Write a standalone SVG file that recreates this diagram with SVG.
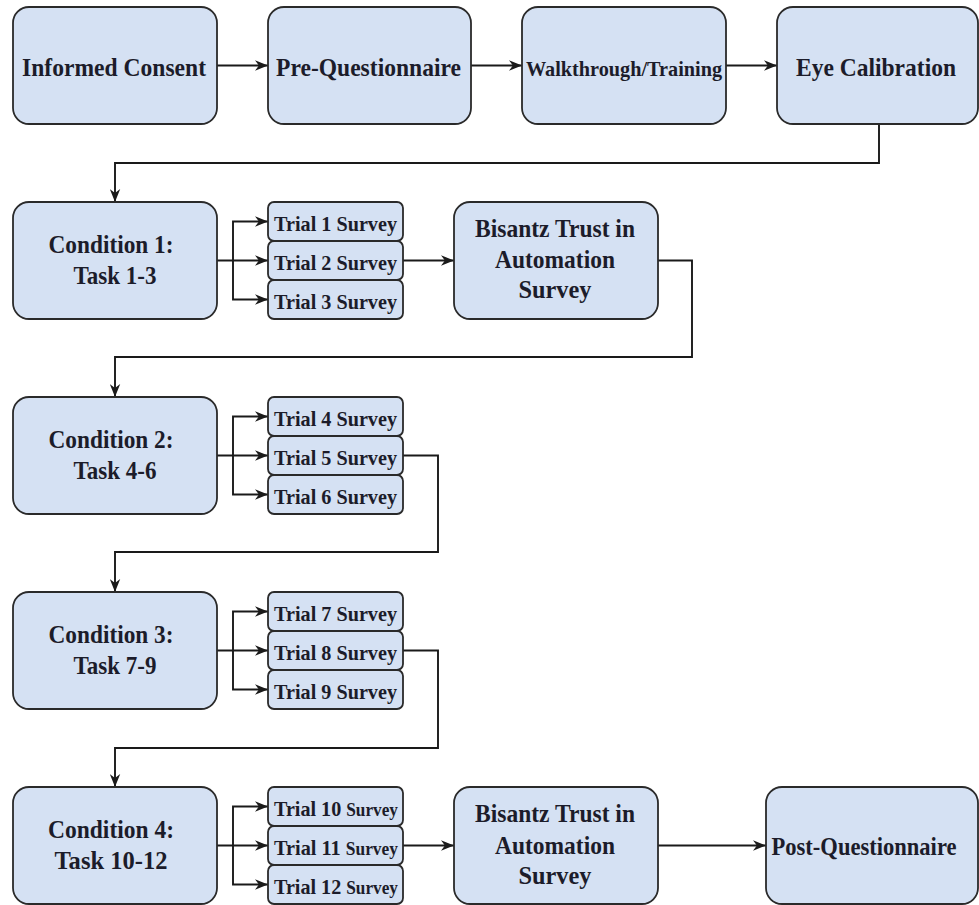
<svg xmlns="http://www.w3.org/2000/svg" width="979" height="905" viewBox="0 0 979 905">
<defs>
<style>
.box{fill:#D5E1F3;stroke:#2a2a2a;stroke-width:1.8}
.t{font-family:"Liberation Serif","Times New Roman",serif;font-weight:bold;fill:#1c1c2a;text-anchor:middle}
.big{font-size:25px}
.mid{font-size:22px}
.sm{font-size:21px}
.c{fill:none;stroke:#1a1a1a;stroke-width:1.9}
</style>
<marker id="ah" viewBox="0 0 10 8" markerUnits="userSpaceOnUse" markerWidth="13" markerHeight="11" refX="10" refY="4" orient="auto">
<path d="M0,0 L10,4 L0,8 L3,4 z" fill="#1a1a1a"/>
</marker>
</defs>
<rect width="979" height="905" fill="#ffffff"/>

<g id="connectors">
<path class="c" d="M217,65.5 H268" marker-end="url(#ah)"/>
<path class="c" d="M471,65.5 H522" marker-end="url(#ah)"/>
<path class="c" d="M726,65.5 H777" marker-end="url(#ah)"/>
<path class="c" d="M879,124 V163 H115 V202" marker-end="url(#ah)"/>
<path class="c" d="M217,260.5 H268" marker-end="url(#ah)"/>
<path class="c" d="M233,260.5 V221.5 H268" marker-end="url(#ah)"/>
<path class="c" d="M233,260.5 V299.5 H268" marker-end="url(#ah)"/>
<path class="c" d="M403,260.5 H454" marker-end="url(#ah)"/>
<path class="c" d="M658,260.5 H692 V357 H115 V397" marker-end="url(#ah)"/>
<path class="c" d="M217,455.5 H268" marker-end="url(#ah)"/>
<path class="c" d="M233,455.5 V416.5 H268" marker-end="url(#ah)"/>
<path class="c" d="M233,455.5 V494.5 H268" marker-end="url(#ah)"/>
<path class="c" d="M403,455.5 H438 V552 H115 V592" marker-end="url(#ah)"/>
<path class="c" d="M217,650.5 H268" marker-end="url(#ah)"/>
<path class="c" d="M233,650.5 V611.5 H268" marker-end="url(#ah)"/>
<path class="c" d="M233,650.5 V689.5 H268" marker-end="url(#ah)"/>
<path class="c" d="M403,650.5 H438 V748 H115 V787" marker-end="url(#ah)"/>
<path class="c" d="M217,845.5 H268" marker-end="url(#ah)"/>
<path class="c" d="M233,845.5 V806.5 H268" marker-end="url(#ah)"/>
<path class="c" d="M233,845.5 V884.5 H268" marker-end="url(#ah)"/>
<path class="c" d="M403,845.5 H454" marker-end="url(#ah)"/>
<path class="c" d="M658,845.5 H766" marker-end="url(#ah)"/>
</g>

<g id="informed-consent">
<rect class="box" x="13" y="7" width="204" height="117" rx="16"/>
<text class="t big" x="114" y="76" textLength="184" lengthAdjust="spacingAndGlyphs">Informed Consent</text>
</g>
<g id="pre-questionnaire">
<rect class="box" x="268" y="7" width="203" height="117" rx="16"/>
<text class="t big" x="368.5" y="76" textLength="185" lengthAdjust="spacingAndGlyphs">Pre-Questionnaire</text>
</g>
<g id="walkthrough">
<rect class="box" x="522" y="7" width="204" height="117" rx="16"/>
<text class="t mid" x="624" y="76" textLength="196" lengthAdjust="spacingAndGlyphs">Walkthrough/Training</text>
</g>
<g id="eye-calibration">
<rect class="box" x="777" y="7" width="201" height="117" rx="16"/>
<text class="t big" x="876" y="76" textLength="160" lengthAdjust="spacingAndGlyphs">Eye Calibration</text>
</g>

<g id="condition-1">
<rect class="box" x="13" y="202" width="204" height="117" rx="16"/>
<text class="t big" x="111" y="253" textLength="125" lengthAdjust="spacingAndGlyphs">Condition 1:</text>
<text class="t big" x="115" y="284" textLength="83" lengthAdjust="spacingAndGlyphs">Task 1-3</text>
</g>
<g id="trial-1"><rect class="box" x="268" y="202" width="135" height="39" rx="6"/><text class="t sm" x="335.5" y="231" textLength="123" lengthAdjust="spacingAndGlyphs">Trial 1 Survey</text></g>
<g id="trial-2"><rect class="box" x="268" y="241" width="135" height="39" rx="6"/><text class="t sm" x="335.5" y="270" textLength="123" lengthAdjust="spacingAndGlyphs">Trial 2 Survey</text></g>
<g id="trial-3"><rect class="box" x="268" y="280" width="135" height="39" rx="6"/><text class="t sm" x="335.5" y="309" textLength="123" lengthAdjust="spacingAndGlyphs">Trial 3 Survey</text></g>
<g id="bisantz-1">
<rect class="box" x="454" y="202" width="204" height="117" rx="16"/>
<text class="t big" x="555" y="237" textLength="160" lengthAdjust="spacingAndGlyphs">Bisantz Trust in</text>
<text class="t big" x="555" y="268" textLength="120" lengthAdjust="spacingAndGlyphs">Automation</text>
<text class="t big" x="555" y="298" textLength="73" lengthAdjust="spacingAndGlyphs">Survey</text>
</g>

<g id="condition-2">
<rect class="box" x="13" y="397" width="204" height="117" rx="16"/>
<text class="t big" x="111" y="448" textLength="125" lengthAdjust="spacingAndGlyphs">Condition 2:</text>
<text class="t big" x="115" y="479" textLength="83" lengthAdjust="spacingAndGlyphs">Task 4-6</text>
</g>
<g id="trial-4"><rect class="box" x="268" y="397" width="135" height="39" rx="6"/><text class="t sm" x="335.5" y="426" textLength="123" lengthAdjust="spacingAndGlyphs">Trial 4 Survey</text></g>
<g id="trial-5"><rect class="box" x="268" y="436" width="135" height="39" rx="6"/><text class="t sm" x="335.5" y="465" textLength="123" lengthAdjust="spacingAndGlyphs">Trial 5 Survey</text></g>
<g id="trial-6"><rect class="box" x="268" y="475" width="135" height="39" rx="6"/><text class="t sm" x="335.5" y="504" textLength="123" lengthAdjust="spacingAndGlyphs">Trial 6 Survey</text></g>

<g id="condition-3">
<rect class="box" x="13" y="592" width="204" height="117" rx="16"/>
<text class="t big" x="111" y="643" textLength="125" lengthAdjust="spacingAndGlyphs">Condition 3:</text>
<text class="t big" x="115" y="674" textLength="83" lengthAdjust="spacingAndGlyphs">Task 7-9</text>
</g>
<g id="trial-7"><rect class="box" x="268" y="592" width="135" height="39" rx="6"/><text class="t sm" x="335.5" y="621" textLength="123" lengthAdjust="spacingAndGlyphs">Trial 7 Survey</text></g>
<g id="trial-8"><rect class="box" x="268" y="631" width="135" height="39" rx="6"/><text class="t sm" x="335.5" y="660" textLength="123" lengthAdjust="spacingAndGlyphs">Trial 8 Survey</text></g>
<g id="trial-9"><rect class="box" x="268" y="670" width="135" height="39" rx="6"/><text class="t sm" x="335.5" y="699" textLength="123" lengthAdjust="spacingAndGlyphs">Trial 9 Survey</text></g>

<g id="condition-4">
<rect class="box" x="13" y="787" width="204" height="117" rx="16"/>
<text class="t big" x="111" y="838" textLength="126" lengthAdjust="spacingAndGlyphs">Condition 4:</text>
<text class="t big" x="111" y="869" textLength="113" lengthAdjust="spacingAndGlyphs">Task 10-12</text>
</g>
<g id="trial-10"><rect class="box" x="268" y="787" width="135" height="39" rx="6"/><text class="t sm" x="336" y="816" textLength="124" lengthAdjust="spacingAndGlyphs">Trial 10 <tspan font-size="18">Survey</tspan></text></g>
<g id="trial-11"><rect class="box" x="268" y="826" width="135" height="39" rx="6"/><text class="t sm" x="336" y="855" textLength="124" lengthAdjust="spacingAndGlyphs">Trial 11 <tspan font-size="18">Survey</tspan></text></g>
<g id="trial-12"><rect class="box" x="268" y="865" width="135" height="39" rx="6"/><text class="t sm" x="336" y="894" textLength="124" lengthAdjust="spacingAndGlyphs">Trial 12 <tspan font-size="18">Survey</tspan></text></g>
<g id="bisantz-2">
<rect class="box" x="454" y="787" width="204" height="117" rx="16"/>
<text class="t big" x="555" y="822" textLength="160" lengthAdjust="spacingAndGlyphs">Bisantz Trust in</text>
<text class="t big" x="555" y="854" textLength="120" lengthAdjust="spacingAndGlyphs">Automation</text>
<text class="t big" x="555" y="884" textLength="73" lengthAdjust="spacingAndGlyphs">Survey</text>
</g>
<g id="post-questionnaire">
<rect class="box" x="766" y="787" width="212" height="117" rx="16"/>
<text class="t big" x="864" y="855" textLength="185" lengthAdjust="spacingAndGlyphs">Post-Questionnaire</text>
</g>
</svg>
